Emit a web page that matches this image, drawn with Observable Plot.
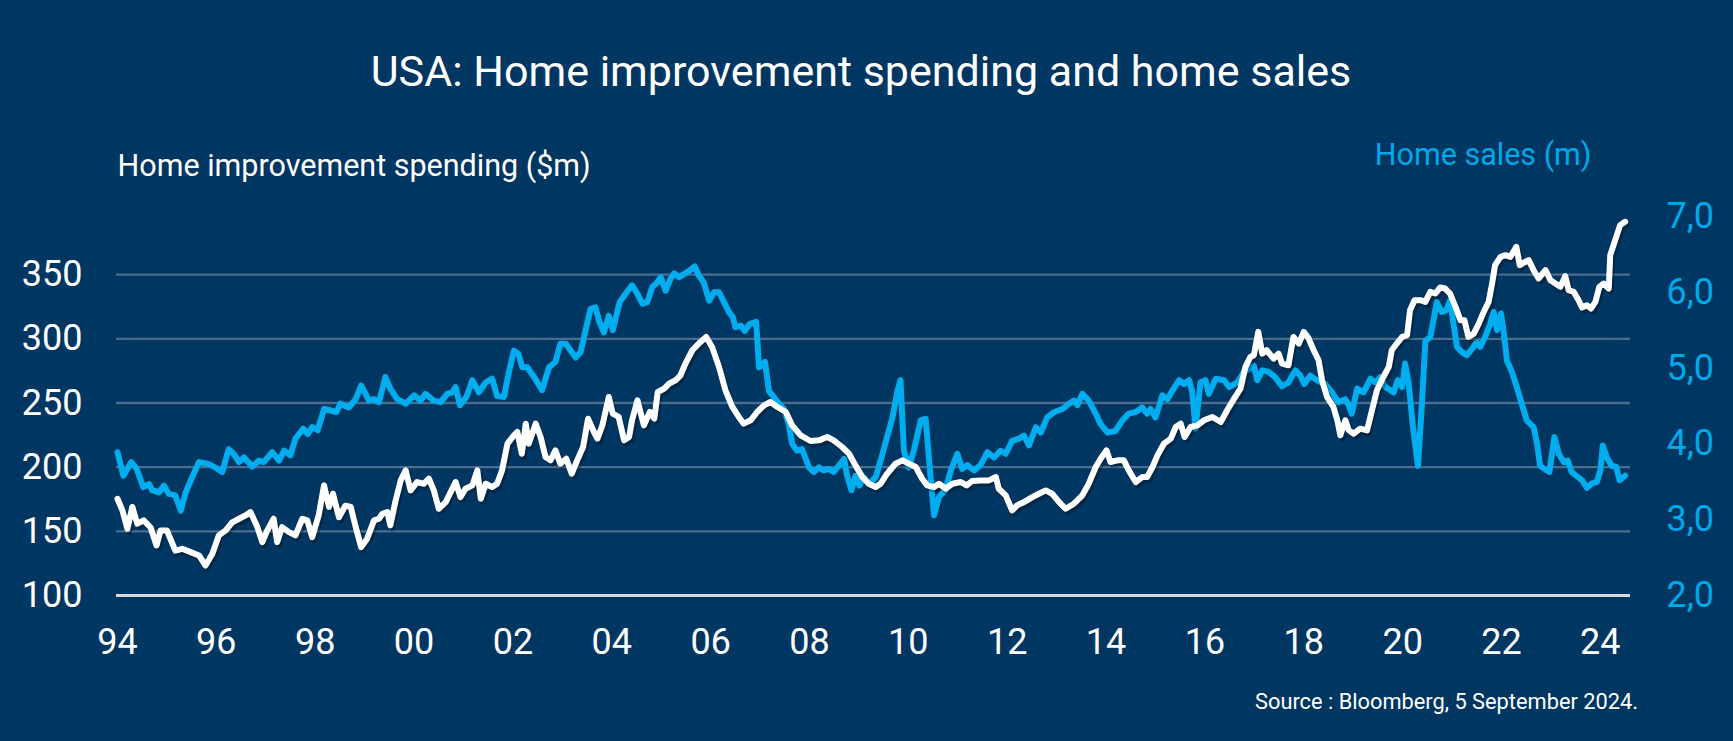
<!DOCTYPE html>
<html>
<head>
<meta charset="utf-8">
<script src="https://cdn.jsdelivr.net/npm/d3@7"></script>
<script src="https://cdn.jsdelivr.net/npm/@observablehq/plot@0.6"></script>
<style>
html, body { margin: 0; padding: 0; background: #003662; }
#page { position: relative; width: 1733px; height: 741px; background: #003662; overflow: hidden;
        font-family: Roboto, "Noto Sans", sans-serif; color: #fff; }
#title { position: absolute; left: 0; top: 50px; width: 1722px; text-align: center;
         font-size: 43px; line-height: 43px; white-space: nowrap; }
#chart { position: absolute; left: 0; top: 120px; }
#source { position: absolute; right: 95px; top: 691px; font-size: 21.8px; line-height: 21.8px; white-space: nowrap; }
</style>
</head>
<body>
<div id="page">
  <div id="title">USA: Home improvement spending and home sales</div>
  <div id="chart"></div>
  <div id="source">Source : Bloomberg, 5 September 2024.</div>
</div>
<script>
// ---- Data ----
const leftTitle = "Home improvement spending ($m)";
const rightTitle = "Home sales (m)";

const xTicks = [1994, 1996, 1998, 2000, 2002, 2004, 2006, 2008, 2010, 2012, 2014, 2016, 2018, 2020, 2022, 2024];
const xLabels = ["94", "96", "98", "00", "02", "04", "06", "08", "10", "12", "14", "16", "18", "20", "22", "24"];
const leftTicks = [100, 150, 200, 250, 300, 350];
const rightTicks = [2, 3, 4, 5, 6, 7];

// Home improvement spending ($m) — white line
const spendYears = [
  1994.0, 1994.1, 1994.2, 1994.3, 1994.4, 1994.53, 1994.67, 1994.79, 1994.87, 1995.0,
  1995.17, 1995.31, 1995.48, 1995.65, 1995.78, 1995.92, 1996.05, 1996.19, 1996.32, 1996.46,
  1996.59, 1996.69, 1996.83, 1996.93, 1997.03, 1997.16, 1997.23, 1997.33, 1997.47, 1997.6,
  1997.74, 1997.84, 1997.94, 1998.07, 1998.18, 1998.28, 1998.36, 1998.48, 1998.61, 1998.72,
  1998.82, 1998.93, 1999.05, 1999.19, 1999.29, 1999.36, 1999.46, 1999.52, 1999.62, 1999.73,
  1999.83, 1999.93, 2000.06, 2000.2, 2000.3, 2000.4, 2000.5, 2000.64, 2000.74, 2000.84,
  2000.94, 2001.04, 2001.18, 2001.28, 2001.35, 2001.45, 2001.58, 2001.68, 2001.78, 2001.89,
  2002.02, 2002.09, 2002.18, 2002.26, 2002.32, 2002.46, 2002.56, 2002.66, 2002.76, 2002.86,
  2002.96, 2003.08, 2003.19, 2003.3, 2003.42, 2003.52, 2003.64, 2003.71, 2003.81, 2003.94,
  2004.02, 2004.14, 2004.25, 2004.35, 2004.41, 2004.52, 2004.65, 2004.77, 2004.86, 2004.93,
  2005.06, 2005.16, 2005.29, 2005.39, 2005.49, 2005.63, 2005.76, 2005.91, 2006.03, 2006.17,
  2006.3, 2006.44, 2006.57, 2006.67, 2006.81, 2006.94, 2007.08, 2007.21, 2007.35, 2007.52,
  2007.65, 2007.82, 2008.02, 2008.19, 2008.36, 2008.49, 2008.66, 2008.8, 2008.93, 2009.07,
  2009.2, 2009.34, 2009.44, 2009.57, 2009.74, 2009.88, 2010.01, 2010.15, 2010.28, 2010.38,
  2010.52, 2010.62, 2010.75, 2010.89, 2011.06, 2011.18, 2011.29, 2011.46, 2011.63, 2011.77,
  2011.83, 2011.97, 2012.1, 2012.2, 2012.34, 2012.51, 2012.64, 2012.78, 2012.91, 2013.05,
  2013.18, 2013.35, 2013.52, 2013.65, 2013.79, 2013.89, 2014.01, 2014.09, 2014.23, 2014.36,
  2014.46, 2014.6, 2014.73, 2014.83, 2014.94, 2015.04, 2015.17, 2015.31, 2015.41, 2015.51,
  2015.59, 2015.71, 2015.85, 2015.98, 2016.15, 2016.32, 2016.45, 2016.59, 2016.72, 2016.82,
  2016.92, 2016.99, 2017.08, 2017.16, 2017.25, 2017.39, 2017.49, 2017.56, 2017.69, 2017.79,
  2017.9, 2018.0, 2018.1, 2018.2, 2018.3, 2018.37, 2018.47, 2018.6, 2018.68, 2018.74,
  2018.84, 2018.91, 2019.01, 2019.14, 2019.28, 2019.38, 2019.48, 2019.61, 2019.72, 2019.78,
  2019.88, 2019.99, 2020.09, 2020.15, 2020.24, 2020.36, 2020.46, 2020.56, 2020.66, 2020.76,
  2020.86, 2020.96, 2021.07, 2021.17, 2021.25, 2021.33, 2021.44, 2021.54, 2021.64, 2021.74,
  2021.81, 2021.87, 2021.98, 2022.08, 2022.18, 2022.3, 2022.37, 2022.48, 2022.55, 2022.65,
  2022.75, 2022.89, 2022.99, 2023.09, 2023.19, 2023.29, 2023.36, 2023.46, 2023.56, 2023.63,
  2023.73, 2023.81, 2023.9, 2023.98, 2024.07, 2024.17, 2024.2, 2024.3, 2024.4, 2024.5
];
const spendValues = [
  175.4, 166.3, 152, 169, 156, 158.5, 153, 139, 150.7, 150.7,
  135, 136.4, 133.8, 131.2, 123.4, 132.5, 146.8, 150.7, 157, 159.8,
  162.4, 165, 153.3, 141.6, 150.7, 159.8, 141.6, 153.3, 149.4, 146.8,
  159.8, 158.5, 145.5, 162.4, 185.8, 169, 179.3, 161, 170, 169,
  153.3, 137.7, 144.2, 158.5, 159.8, 163.7, 165, 154.6, 172.8, 189.7,
  197.5, 181.9, 188.4, 187.1, 191, 181.9, 167.6, 172.8, 180.6, 188.4,
  176.7, 183.2, 185.8, 197.5, 175.4, 187.1, 184.5, 187.1, 197.5, 218.3,
  224.8, 227.4, 210.5, 233.9, 218.3, 233.9, 223.5, 207.9, 205.3, 213.1,
  202.7, 206.6, 194.9, 205.3, 215.7, 237.8, 227.4, 222.2, 232.6, 254.7,
  241.7, 239.1, 220.9, 223.5, 236.5, 252.1, 232.6, 243, 237.8, 258.6,
  261.2, 265.1, 267.7, 271.6, 280.7, 291.1, 296.3, 301.5, 293.7, 278.1,
  259.9, 246.9, 239.1, 233.9, 236.5, 243, 248.2, 250.8, 246.9, 243,
  232.6, 224.8, 220.4, 220.9, 223.5, 220.9, 215.7, 210.5, 201.4, 192.3,
  187.1, 184.5, 187.1, 194.9, 202.7, 205.3, 202.7, 200.1, 191, 185.8,
  184.5, 187.1, 183.2, 187.1, 188.4, 185.8, 189.2, 189.7, 189.7, 192.3,
  183.2, 178, 166.3, 170.2, 172.8, 176.7, 179.3, 181.9, 179.3, 172.8,
  167.6, 171.5, 178, 187.1, 200.1, 206.6, 213.1, 204, 205.3, 205.3,
  197.5, 188.4, 192.3, 192.3, 200.1, 209.2, 218.3, 222.2, 231.3, 233.9,
  223.5, 231.3, 232.6, 236.5, 239.1, 235.2, 244.3, 253.4, 261.2, 278.1,
  285.9, 287.2, 305.4, 288.5, 291.1, 284.6, 288.5, 280.7, 279.4, 301.5,
  296.3, 305.4, 300.2, 291.1, 283.3, 267.7, 254.7, 246.9, 236.5, 224.8,
  236.5, 228.7, 226.1, 230, 228.7, 244.3, 259.9, 270.3, 278.1, 291.1,
  296.3, 301.5, 302.8, 322.3, 330.1, 330.1, 328.8, 336.6, 335.3, 340,
  339.2, 335.3, 324.9, 314.5, 314.5, 301.5, 304.1, 311.9, 321, 328.8,
  343.1, 357.4, 363.9, 365.2, 363.9, 371.7, 357.4, 360, 361.3, 353.5,
  347, 353.5, 345.7, 343.1, 340.5, 348.8, 337.9, 336.6, 330.1, 324.4,
  326.2, 323.6, 328.8, 340.5, 343.1, 339.2, 365.2, 376.9, 388.6, 391.2
];

// Home sales (m) — blue line, right axis
const salesYears = [
  1994.0, 1994.12, 1994.28, 1994.39, 1994.52, 1994.64, 1994.7, 1994.84, 1994.94, 1995.04,
  1995.17, 1995.28, 1995.38, 1995.51, 1995.65, 1995.82, 1995.98, 1996.12, 1996.25, 1996.35,
  1996.46, 1996.56, 1996.73, 1996.86, 1996.96, 1997.13, 1997.27, 1997.37, 1997.5, 1997.6,
  1997.76, 1997.85, 1997.94, 1998.05, 1998.18, 1998.31, 1998.43, 1998.51, 1998.68, 1998.82,
  1998.93, 1999.09, 1999.19, 1999.29, 1999.42, 1999.52, 1999.66, 1999.83, 2000.0, 2000.13,
  2000.23, 2000.4, 2000.54, 2000.67, 2000.77, 2000.84, 2000.93, 2001.06, 2001.18, 2001.31,
  2001.45, 2001.58, 2001.68, 2001.82, 2001.92, 2002.02, 2002.11, 2002.19, 2002.29, 2002.43,
  2002.59, 2002.73, 2002.86, 2002.96, 2003.07, 2003.17, 2003.27, 2003.37, 2003.47, 2003.57,
  2003.67, 2003.75, 2003.84, 2003.94, 2004.02, 2004.16, 2004.28, 2004.41, 2004.52, 2004.62,
  2004.72, 2004.82, 2004.92, 2004.99, 2005.09, 2005.19, 2005.26, 2005.36, 2005.46, 2005.56,
  2005.68, 2005.76, 2005.86, 2005.97, 2006.07, 2006.17, 2006.27, 2006.37, 2006.45, 2006.5,
  2006.61, 2006.69, 2006.79, 2006.92, 2006.98, 2007.1, 2007.18, 2007.31, 2007.48, 2007.58,
  2007.65, 2007.75, 2007.85, 2007.99, 2008.09, 2008.19, 2008.29, 2008.39, 2008.49, 2008.6,
  2008.7, 2008.76, 2008.85, 2008.93, 2009.01, 2009.1, 2009.2, 2009.34, 2009.47, 2009.57,
  2009.68, 2009.78, 2009.84, 2009.91, 2010.01, 2010.11, 2010.25, 2010.35, 2010.45, 2010.52,
  2010.62, 2010.75, 2010.86, 2010.99, 2011.09, 2011.19, 2011.33, 2011.46, 2011.6, 2011.73,
  2011.87, 2011.97, 2012.1, 2012.24, 2012.34, 2012.44, 2012.58, 2012.68, 2012.81, 2012.95,
  2013.12, 2013.25, 2013.35, 2013.42, 2013.52, 2013.65, 2013.79, 2013.89, 2014.03, 2014.19,
  2014.33, 2014.46, 2014.6, 2014.73, 2014.83, 2014.9, 2015.0, 2015.14, 2015.24, 2015.34,
  2015.48, 2015.58, 2015.68, 2015.74, 2015.81, 2015.91, 2016.01, 2016.08, 2016.22, 2016.39,
  2016.49, 2016.66, 2016.79, 2016.89, 2016.99, 2017.06, 2017.16, 2017.29, 2017.42, 2017.56,
  2017.69, 2017.83, 2017.93, 2018.01, 2018.13, 2018.27, 2018.43, 2018.57, 2018.7, 2018.84,
  2018.91, 2018.97, 2019.08, 2019.21, 2019.35, 2019.45, 2019.55, 2019.65, 2019.82, 2019.9,
  2019.99, 2020.05, 2020.12, 2020.21, 2020.31, 2020.39, 2020.46, 2020.56, 2020.63, 2020.69,
  2020.79, 2020.88, 2020.96, 2021.03, 2021.1, 2021.2, 2021.3, 2021.4, 2021.5, 2021.57,
  2021.67, 2021.77, 2021.84, 2021.91, 2021.99, 2022.04, 2022.11, 2022.21, 2022.31, 2022.41,
  2022.51, 2022.65, 2022.72, 2022.78, 2022.89, 2022.97, 2023.07, 2023.16, 2023.26, 2023.34,
  2023.42, 2023.53, 2023.63, 2023.73, 2023.83, 2023.93, 2024.0, 2024.05, 2024.13, 2024.23,
  2024.32, 2024.39, 2024.5
];
const salesValues = [
  3.89, 3.58, 3.76, 3.67, 3.43, 3.47, 3.39, 3.36, 3.45, 3.34,
  3.32, 3.12, 3.36, 3.56, 3.76, 3.74, 3.69, 3.63, 3.93, 3.87,
  3.76, 3.82, 3.70, 3.78, 3.76, 3.89, 3.78, 3.91, 3.85, 4.07,
  4.20, 4.13, 4.22, 4.18, 4.46, 4.44, 4.42, 4.53, 4.48, 4.59,
  4.77, 4.57, 4.59, 4.55, 4.88, 4.73, 4.59, 4.53, 4.64, 4.57,
  4.66, 4.57, 4.55, 4.66, 4.68, 4.75, 4.51, 4.62, 4.84, 4.68,
  4.81, 4.86, 4.63, 4.62, 4.95, 5.23, 5.19, 5.01, 5.01, 4.88,
  4.71, 5.01, 5.08, 5.32, 5.32, 5.23, 5.14, 5.21, 5.50, 5.78,
  5.80, 5.61, 5.47, 5.69, 5.50, 5.87, 5.98, 6.09, 5.98, 5.85,
  5.87, 6.07, 6.13, 6.20, 6.02, 6.18, 6.25, 6.20, 6.24, 6.28,
  6.34, 6.22, 6.13, 5.89, 6.00, 6.00, 5.87, 5.74, 5.67, 5.54,
  5.56, 5.49, 5.58, 5.61, 5.01, 5.08, 4.70, 4.59, 4.46, 4.26,
  4.00, 3.91, 3.93, 3.69, 3.63, 3.69, 3.65, 3.67, 3.63, 3.72,
  3.80, 3.58, 3.39, 3.58, 3.45, 3.56, 3.47, 3.56, 3.85, 4.09,
  4.35, 4.70, 4.84, 3.91, 3.69, 3.91, 4.31, 4.33, 3.56, 3.06,
  3.30, 3.39, 3.65, 3.87, 3.67, 3.72, 3.65, 3.72, 3.89, 3.82,
  3.91, 3.87, 4.04, 4.07, 4.11, 3.98, 4.22, 4.15, 4.35, 4.42,
  4.46, 4.53, 4.57, 4.51, 4.66, 4.57, 4.40, 4.26, 4.15, 4.17,
  4.31, 4.40, 4.42, 4.48, 4.40, 4.46, 4.35, 4.64, 4.59, 4.70,
  4.84, 4.79, 4.84, 4.70, 4.20, 4.81, 4.84, 4.66, 4.86, 4.84,
  4.75, 4.81, 4.95, 4.99, 5.03, 4.84, 4.97, 4.95, 4.88, 4.76,
  4.81, 4.97, 4.90, 4.79, 4.90, 4.84, 4.79, 4.68, 4.55, 4.59,
  4.51, 4.40, 4.73, 4.68, 4.86, 4.81, 4.88, 4.75, 4.68, 4.84,
  4.75, 5.06, 4.81, 4.22, 3.71, 4.53, 5.36, 5.41, 5.65, 5.87,
  5.74, 5.76, 5.89, 5.58, 5.28, 5.21, 5.17, 5.25, 5.34, 5.28,
  5.41, 5.58, 5.74, 5.50, 5.72, 5.50, 5.10, 4.95, 4.75, 4.53,
  4.31, 4.22, 4.00, 3.71, 3.66, 3.63, 4.09, 3.87, 3.76, 3.78,
  3.63, 3.57, 3.52, 3.42, 3.48, 3.50, 3.65, 3.98, 3.82, 3.71,
  3.70, 3.52, 3.58
];

// ---- Styling ----
const WHITE = "#ffffff";
const BLUE = "#00aeef";
const BLUE_TEXT = "#00a9e8";
const GRID = "#4b6c8d";
const BASE = "#d9d9d9";

// Right axis (home sales) mapped onto the left scale (spending)
const rightToLeft = d3.scaleLinear().domain([2, 7]).range([100, 100 + 5 * 59.07]);

const spend = spendYears.map((t, i) => ({t, v: spendValues[i]}));
const sales = salesYears.map((t, i) => ({t, v: salesValues[i]}));
const fmtComma = v => v.toFixed(1).replace(".", ",");

const chart = Plot.plot({
  width: 1733,
  height: 560,
  marginLeft: 116,
  marginRight: 103,
  marginTop: 90,
  marginBottom: 85,
  style: {background: "transparent", color: WHITE, fontFamily: "Roboto, 'Noto Sans', sans-serif", overflow: "visible"},
  x: {domain: [1993.98, 2024.61], axis: null},
  y: {domain: [100, 400], axis: null},
  marks: [
    Plot.ruleY(leftTicks.filter(d => d !== 100), {stroke: GRID, strokeWidth: 2.3}),
    Plot.ruleY([100], {stroke: BASE, strokeWidth: 3}),
    Plot.axisY(leftTicks, {anchor: "left", tickSize: 0, tickPadding: 34, fontSize: 36, fill: WHITE, label: null}),
    Plot.axisY(rightTicks.map(d => rightToLeft(d)), {
      anchor: "right", tickSize: 0, tickPadding: 36, fontSize: 36, fill: BLUE_TEXT, label: null,
      tickFormat: d => fmtComma(rightToLeft.invert(d))
    }),
    Plot.axisX(xTicks, {
      anchor: "bottom", tickSize: 0, tickPadding: 33, fontSize: 36, fill: WHITE, label: null,
      tickFormat: d => xLabels[xTicks.indexOf(d)]
    }),
    Plot.text([leftTitle], {frameAnchor: "top-left", text: d => d, textAnchor: "start", lineAnchor: "bottom",
      dx: 1, dy: -35, fontSize: 30.5, fill: WHITE}),
    Plot.text([rightTitle], {frameAnchor: "top-right", text: d => d, textAnchor: "end", lineAnchor: "bottom",
      dx: -39, dy: -46, fontSize: 30.5, fill: BLUE_TEXT}),
    Plot.line(sales, {x: "t", y: d => rightToLeft(d.v), stroke: BLUE, strokeWidth: 6,
      strokeLinejoin: "round", strokeLinecap: "round"}),
    Plot.line(spend, {x: "t", y: "v", stroke: "#000", strokeOpacity: 0.28, strokeWidth: 6, dx: 2, dy: 3,
      strokeLinejoin: "round", strokeLinecap: "round"}),
    Plot.line(spend, {x: "t", y: "v", stroke: WHITE, strokeWidth: 6,
      strokeLinejoin: "round", strokeLinecap: "round"})
  ]
});
document.getElementById("chart").appendChild(chart);
</script>
</body>
</html>
